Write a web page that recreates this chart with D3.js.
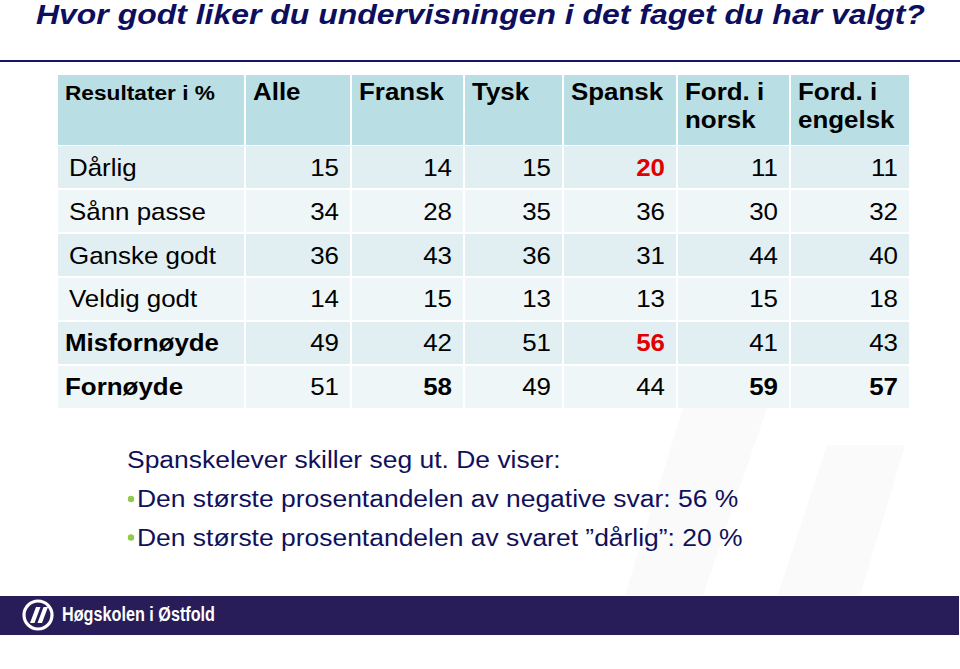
<!DOCTYPE html>
<html>
<head>
<meta charset="utf-8">
<script src="https://cdn.jsdelivr.net/npm/d3@7"></script>
<style>
  body { margin: 0; background: #fff; }
  text { font-family: "Liberation Sans", Arial, sans-serif; }
</style>
</head>
<body>
<div id="canvas"></div>
<script>
// data
const title = "Hvor godt liker du undervisningen i det faget du har valgt?";
const cornerLabel = "Resultater i %";
const columns = ["Alle", "Fransk", "Tysk", "Spansk", "Ford. i norsk", "Ford. i engelsk"];
const rowLabels = ["Dårlig", "Sånn passe", "Ganske godt", "Veldig godt", "Misfornøyde", "Fornøyde"];
const alle = [15, 34, 36, 14, 49, 51];
const fransk = [14, 28, 43, 15, 42, 58];
const tysk = [15, 35, 36, 13, 51, 49];
const spansk = [20, 36, 31, 13, 56, 44];
const fordNorsk = [11, 30, 44, 15, 41, 59];
const fordEngelsk = [11, 32, 40, 18, 43, 57];
const series = [alle, fransk, tysk, spansk, fordNorsk, fordEngelsk];
const boldRows = ["Misfornøyde", "Fornøyde"];
// highlighted cells [column, row]
const redCells = [["Spansk", "Dårlig"], ["Spansk", "Misfornøyde"]];
const boldCells = [["Fransk", "Fornøyde"], ["Ford. i norsk", "Fornøyde"], ["Ford. i engelsk", "Fornøyde"]];
const notesHead = "Spanskelever skiller seg ut. De viser:";
const notes = [
  "Den største prosentandelen av negative svar: 56 %",
  "Den største prosentandelen av svaret \u201ddårlig\u201d: 20 %"
];
const footerName = "Høgskolen i Østfold";

const width = 960, height = 669;
const navy = "#0e0e5e";
const sx = 1.08; // slide text is a bit wider than plain Arial

const svg = d3.select("#canvas").append("svg")
  .attr("width", width).attr("height", height);

// text placed at (x,y) and stretched horizontally
function stretched(sel, px, py) {
  return sel.attr("x", 0).attr("y", 0)
    .attr("transform", (d, i) => `translate(${typeof px === "function" ? px(d, i) : px},${typeof py === "function" ? py(d, i) : py}) scale(${sx},1)`);
}

// faint watermark slashes
const wm = svg.append("g").attr("fill", "#fafafb");
[[[683, 408], [767, 408], [703, 595], [625, 595]],
 [[827, 445], [905, 445], [860, 595], [778, 595]]].forEach(p => {
  wm.append("polygon").attr("points", p.map(d => d.join(",")).join(" "));
});

// title
svg.append("text")
  .attr("x", 36).attr("y", 24)
  .attr("font-size", 27.5).attr("font-weight", "bold").attr("font-style", "italic")
  .attr("fill", navy)
  .attr("textLength", 889).attr("lengthAdjust", "spacingAndGlyphs")
  .text(title);

svg.append("line")
  .attr("x1", 0).attr("x2", width).attr("y1", 61).attr("y2", 61)
  .attr("stroke", "#15156a").attr("stroke-width", 2.2);

// table layout
const colWidths = [188, 106, 113, 99, 114, 113, 120];
const tableLeft = 57;
const edges = [tableLeft, ...d3.cumsum(colWidths).map(d => d + tableLeft)];
const allCols = [cornerLabel, ...columns];
const x = d3.scaleOrdinal().domain(allCols).range(edges.slice(0, -1));
const w = d3.scaleOrdinal().domain(allCols).range(colWidths);

const y = d3.scaleBand().domain(rowLabels).range([146, 408]).paddingInner(0.045);

const headerTop = 75, headerBottom = 145;
const g = svg.append("g");

// header cells
g.selectAll("rect.head").data(allCols).join("rect")
  .attr("class", "head")
  .attr("x", d => x(d) + 1).attr("y", headerTop)
  .attr("width", d => w(d) - 2).attr("height", headerBottom - headerTop)
  .attr("fill", "#b9dfe4");

stretched(g.selectAll("text.head").data(allCols).join("text"), d => x(d) + 8, 100)
  .attr("class", "head")
  .attr("font-size", (d, i) => i === 0 ? 21 : 24)
  .attr("font-weight", "bold")
  .attr("fill", "#000")
  .each(function(d) {
    const parts = d.startsWith("Ford. i") ? ["Ford. i", d.slice(8)] : [d];
    d3.select(this).selectAll("tspan").data(parts).join("tspan")
      .attr("x", 0)
      .attr("dy", (p, j) => j === 0 ? 0 : 28)
      .text(p => p);
  });

// body rows
const rows = g.selectAll("g.row").data(rowLabels).join("g")
  .attr("class", "row")
  .attr("transform", d => `translate(0,${y(d)})`);

rows.selectAll("rect").data(() => allCols).join("rect")
  .attr("x", d => x(d) + 1).attr("y", 0)
  .attr("width", d => w(d) - 2).attr("height", y.bandwidth())
  .attr("fill", function() {
    const r = d3.select(this.parentNode).datum();
    return rowLabels.indexOf(r) % 2 === 0 ? "#e1eff2" : "#eff6f8";
  });

const baseY = y.bandwidth() / 2 + 8.5;
stretched(rows.append("text"), d => tableLeft + (boldRows.includes(d) ? 8 : 12), baseY)
  .attr("font-size", 24)
  .attr("font-weight", d => boldRows.includes(d) ? "bold" : "normal")
  .attr("fill", "#000")
  .text(d => d);

const isIn = (list, c, r) => list.some(p => p[0] === c && p[1] === r);

stretched(rows.selectAll("text.val")
  .data(r => columns.map((c, i) => ({ col: c, row: r, v: series[i][rowLabels.indexOf(r)] })))
  .join("text"), d => x(d.col) + w(d.col) - 12, baseY)
  .attr("class", "val")
  .attr("text-anchor", "end")
  .attr("font-size", 24)
  .attr("font-weight", d => isIn(redCells, d.col, d.row) || isIn(boldCells, d.col, d.row) ? "bold" : "normal")
  .attr("fill", d => isIn(redCells, d.col, d.row) ? "#e00000" : "#000")
  .text(d => d.v);

// notes
const nt = svg.append("g").attr("fill", "#10105c").attr("font-size", 24.5);
stretched(nt.append("text"), 127, 468).text(notesHead);
notes.forEach((n, i) => {
  const by = 507 + i * 38.5;
  nt.append("circle").attr("cx", 131).attr("cy", by - 8).attr("r", 3.2).attr("fill", "#93c94a");
  stretched(nt.append("text"), 137, by).text(n);
});

// footer
svg.append("rect")
  .attr("x", 0).attr("y", 596).attr("width", 959).attr("height", 39)
  .attr("fill", "#281d58");
const logo = svg.append("g").attr("transform", "translate(38,615)");
logo.append("circle").attr("r", 14).attr("fill", "none")
  .attr("stroke", "#fff").attr("stroke-width", 3.2);
logo.append("path").attr("d", "M-8,8 L-2,-8 L2.5,-8 L-3.5,8 Z M-0.5,8 L5.5,-8 L10,-8 L4,8 Z")
  .attr("fill", "#fff");
svg.append("text")
  .attr("x", 62).attr("y", 621)
  .attr("font-family", "'Open Sans', sans-serif")
  .attr("font-size", 20).attr("font-weight", "bold")
  .attr("fill", "#fff")
  .attr("textLength", 153).attr("lengthAdjust", "spacingAndGlyphs")
  .text(footerName);
</script>
</body>
</html>
